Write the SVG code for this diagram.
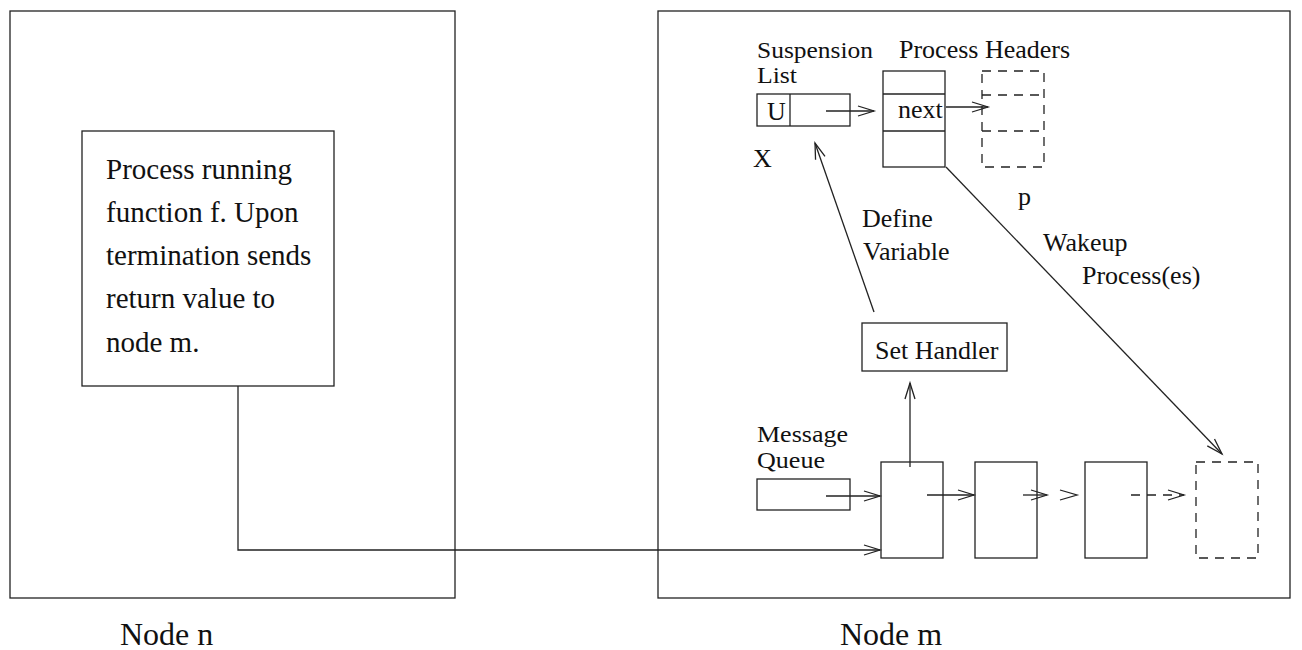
<svg xmlns="http://www.w3.org/2000/svg" width="1302" height="650" viewBox="0 0 1302 650">
<style>
.b{fill:none;stroke:#222;stroke-width:1.3}
.d{fill:none;stroke:#222;stroke-width:1.3;stroke-dasharray:9 7}
.c{fill:none;stroke:#222;stroke-width:1.3}
.t{font-family:"Liberation Serif","Times New Roman",serif;fill:#111}
.s{font-size:26px}
.n{font-size:24px}
.m{font-size:29px}
.l{font-size:32px}
</style>
<defs>
<marker id="ah" markerUnits="userSpaceOnUse" markerWidth="20" markerHeight="14" refX="17" refY="6" orient="auto" viewBox="0 0 20 12">
<path d="M1,1 L17,6 L1,11" fill="none" stroke="#222" stroke-width="1.3"/>
</marker>
</defs>
<rect width="1302" height="650" fill="#fff"/>
<g id="node-n">
<rect class="b" x="10" y="11" width="445" height="587"/>
<text class="t l" x="120" y="645">Node n</text>
</g>
<g id="process-box">
<rect class="b" x="82" y="131" width="252" height="255"/>
<text class="t m" x="106" y="179">Process running</text>
<text class="t m" x="106" y="222">function f. Upon</text>
<text class="t m" x="106" y="265">termination sends</text>
<text class="t m" x="106" y="308">return value to</text>
<text class="t m" x="106" y="352">node m.</text>
</g>
<g id="node-m">
<rect class="b" x="658" y="11" width="632" height="587"/>
<text class="t l" x="840" y="645">Node m</text>
</g>
<g id="suspension-list">
<text class="t n" x="757" y="58" textLength="116" lengthAdjust="spacingAndGlyphs">Suspension</text>
<text class="t n" x="757" y="83" textLength="40" lengthAdjust="spacingAndGlyphs">List</text>
<rect class="b" x="757" y="94" width="93" height="32"/>
<line class="b" x1="790" y1="94" x2="790" y2="126"/>
<text class="t s" x="767" y="120">U</text>
<text class="t s" x="753" y="167">X</text>
</g>
<g id="process-headers">
<text class="t s" x="899" y="58">Process Headers</text>
<rect class="b" x="883" y="71" width="62" height="96"/>
<line class="b" x1="883" y1="94" x2="945" y2="94"/>
<line class="b" x1="883" y1="131" x2="945" y2="131"/>
<text class="t s" x="898" y="118">next</text>
</g>
<g id="header-p">
<rect class="d" x="982" y="71" width="62" height="96"/>
<line class="d" x1="982" y1="95" x2="1044" y2="95"/>
<line class="d" x1="982" y1="131" x2="1044" y2="131"/>
<text class="t s" x="1018" y="205">p</text>
</g>
<g id="set-handler">
<rect class="b" x="862" y="323" width="145" height="48"/>
<text class="t s" x="875" y="359">Set Handler</text>
</g>
<g id="message-queue">
<text class="t n" x="757" y="442" textLength="91" lengthAdjust="spacingAndGlyphs">Message</text>
<text class="t n" x="757" y="468" textLength="68" lengthAdjust="spacingAndGlyphs">Queue</text>
<rect class="b" x="757" y="479" width="93" height="31"/>
</g>
<g id="msg1"><rect class="b" x="881" y="462" width="62" height="96"/></g>
<g id="msg2"><rect class="b" x="975" y="462" width="62" height="96"/></g>
<g id="msg3"><rect class="b" x="1085" y="462" width="62" height="96"/></g>
<g id="msg4"><rect class="d" x="1196" y="462" width="62" height="96"/></g>
<g id="labels">
<text class="t s" x="862" y="227">Define</text>
<text class="t s" x="863" y="260">Variable</text>
<text class="t s" x="1043" y="251">Wakeup</text>
<text class="t s" x="1082" y="284">Process(es)</text>
</g>
<g id="connectors">
<line class="c" x1="826" y1="111" x2="874" y2="111" marker-end="url(#ah)"/>
<line class="c" x1="946" y1="107" x2="988" y2="107" marker-end="url(#ah)"/>
<line class="c" x1="874" y1="312" x2="815" y2="143" marker-end="url(#ah)"/>
<line class="c" x1="946" y1="167" x2="1222" y2="454" marker-end="url(#ah)"/>
<line class="c" x1="910" y1="467" x2="910" y2="383" marker-end="url(#ah)"/>
<line class="c" x1="826" y1="496" x2="880" y2="496" marker-end="url(#ah)"/>
<line class="c" x1="927" y1="495" x2="974" y2="495" marker-end="url(#ah)"/>
<line class="c" x1="1023" y1="495" x2="1047" y2="495" marker-end="url(#ah)"/>
<path class="c" d="M1060,490 L1077,495 L1060,500"/>
<line class="d" x1="1131" y1="495" x2="1184" y2="495" stroke-dasharray="10 8" marker-end="url(#ah)"/>
<polyline class="c" points="238,386 238,550 880,550" marker-end="url(#ah)"/>
</g>
</svg>
